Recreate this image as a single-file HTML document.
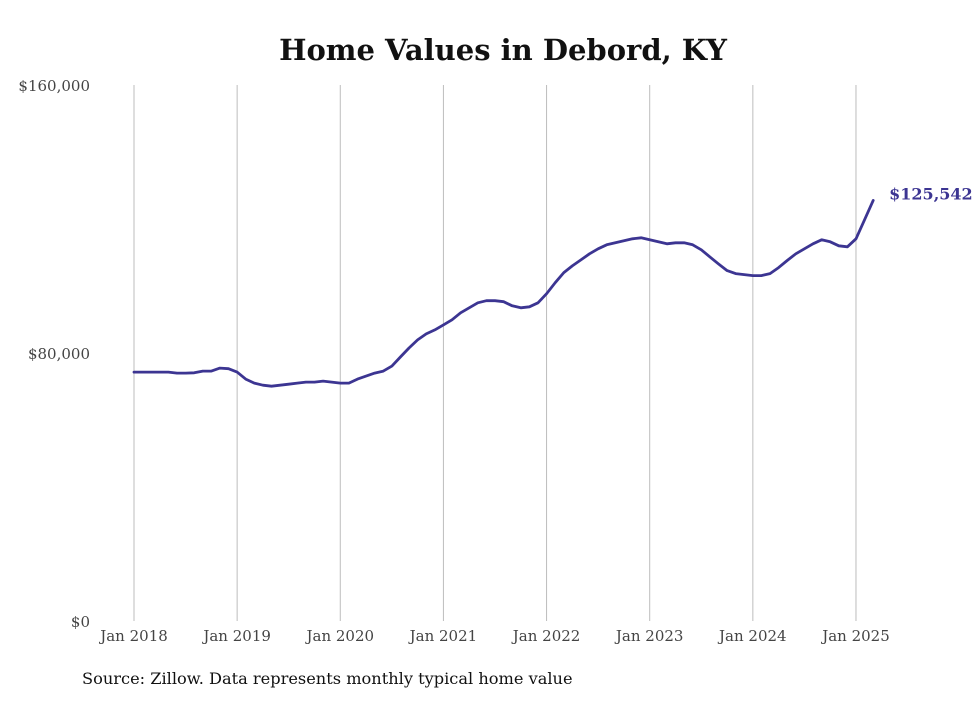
<!DOCTYPE html>
<html><head><meta charset="utf-8"><style>
body{margin:0;background:#fff;}
svg text{font-family:"DejaVu Serif","Liberation Serif",serif;}
</style></head><body>
<svg id="chart" width="980" height="699" xmlns="http://www.w3.org/2000/svg">
<rect width="980" height="699" fill="#fff"/>
<text x="503" y="60" text-anchor="middle" font-size="29" font-weight="bold" fill="#111">Home Values in Debord, KY</text>
<g id="grid"></g><g id="yaxis"></g><g id="xaxis"></g><g id="series"></g>
<text x="82" y="684" font-size="16.2" fill="#111">Source: Zillow. Data represents monthly typical home value</text>
</svg>
<script>
const yTicks=[0,80000,160000];
const yTickLabels=["$0","$80,000","$160,000"];
const xTickYears=[2018,2019,2020,2021,2022,2023,2024,2025];
const xTickLabels=["Jan 2018","Jan 2019","Jan 2020","Jan 2021","Jan 2022","Jan 2023","Jan 2024","Jan 2025"];
const startYear=2018;
const values=[74300,74300,74300,74300,74300,74000,74000,74100,74600,74600,75500,75300,
74300,72200,71000,70400,70100,70400,70700,71000,71300,71300,71600,71300,
71000,71000,72200,73100,74000,74600,76100,78800,81500,83900,85700,86900,
88400,89900,92000,93500,95000,95600,95600,95300,94100,93500,93800,95000,
97700,101000,104000,106000,107800,109600,111100,112300,112900,113500,114100,114400,
113800,113200,112600,112900,112900,112300,110800,108700,106600,104600,103700,103400,
103100,103100,103700,105500,107600,109600,111100,112600,113800,113200,112000,111700,
114100,119800,125542];
const svg=document.getElementById('chart');
const NS='http://www.w3.org/2000/svg';
const x0=134,pxPerYear=103.14,yBase=621,yTop=85,yMax=160000;
const xScale=t=>x0+(t-startYear)*pxPerYear;
const yScale=v=>yBase-v/yMax*(yBase-yTop);
function mk(tag,attrs,parent){const e=document.createElementNS(NS,tag);for(const k in attrs)e.setAttribute(k,attrs[k]);document.getElementById(parent).appendChild(e);return e;}
xTickYears.forEach((yr,i)=>{
 const x=xScale(yr);
 const l=mk('line',{x1:x,x2:x,y1:yTop,y2:yBase,stroke:'#bdbdbd','stroke-width':1},'grid');
 
 
 const t=mk('text',{x:x,y:641,'text-anchor':'middle','font-size':15,fill:'#444'},'xaxis');
 t.textContent=xTickLabels[i];
 
 
});
yTicks.forEach((v,i)=>{
 const t=mk('text',{x:90,y:yScale(v)+6,'text-anchor':'end','font-size':15,fill:'#444'},'yaxis');
 t.textContent=yTickLabels[i];
 
 
});
const pts=values.map((v,i)=>xScale(startYear+i/12).toFixed(1)+','+yScale(v).toFixed(1));
const p=mk('polyline',{points:pts.join(' '),fill:'none',stroke:'#3c3592','stroke-width':2.8,'stroke-linejoin':'round','stroke-linecap':'round'},'series');


const lastI=values.length-1;
const lbl=mk('text',{x:xScale(startYear+lastI/12)+16,y:yScale(values[lastI])-1,'font-size':16,'font-weight':'bold',fill:'#3c3592'},'series');
lbl.textContent='$'+values[lastI].toLocaleString('en-US');


</script>
</body></html>
